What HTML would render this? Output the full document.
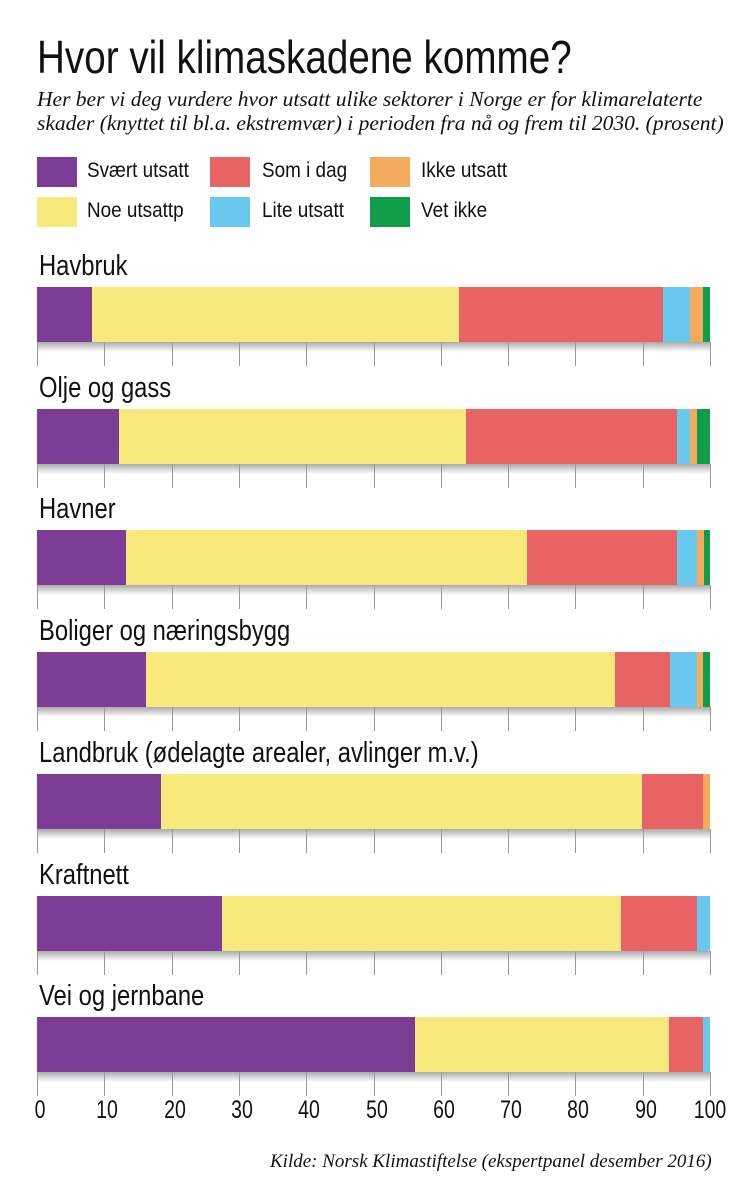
<!DOCTYPE html>
<html><head><meta charset="utf-8"><style>
body{margin:0;width:756px;height:1200px;background:#fff;position:relative;overflow:hidden;font-family:"Liberation Sans",sans-serif;color:#111}
.a{position:absolute;white-space:nowrap;transform-origin:0 0}
.t{left:37px;top:30px;font-size:46px;transform:scaleX(0.84)}
.s{left:37px;font-family:"Liberation Serif",serif;font-style:italic;font-size:21.5px}
.sw{position:absolute;width:40px;height:30px}
.lg{position:absolute;font-size:21px;transform:scaleX(0.9);transform-origin:0 0}
.lab{position:absolute;left:39px;font-size:29px;transform:scaleX(0.82);transform-origin:0 0;white-space:nowrap}
.bar{position:absolute;left:37px;width:673px;height:55px;display:flex}
.bar div{height:100%}
.sh{position:absolute;left:37px;width:673px;height:10px;background:linear-gradient(#aaa,#fff)}
.tk{position:absolute;width:1px;height:24px;background:#999}
.n{position:absolute;top:1096px;font-size:25px;transform:translateX(-50%) scaleX(0.78)}
</style></head><body>
<div class="a t">Hvor vil klimaskadene komme?</div>
<div class="a s" style="top:87px">Her ber vi deg vurdere hvor utsatt ulike sektorer i Norge er for klimarelaterte</div>
<div class="a s" style="top:111px">skader (knyttet til bl.a. ekstremvær) i perioden fra nå og frem til 2030. (prosent)</div>

<div class="sw" style="left:37px;top:157px;background:#7d3c96"></div><div class="lg" style="left:87px;top:159px">Svært utsatt</div>
<div class="sw" style="left:210px;top:157px;background:#e86464"></div><div class="lg" style="left:262px;top:159px">Som i dag</div>
<div class="sw" style="left:370px;top:157px;background:#f4ab5e"></div><div class="lg" style="left:421px;top:159px">Ikke utsatt</div>
<div class="sw" style="left:37px;top:197px;background:#f7e97c"></div><div class="lg" style="left:87px;top:199px">Noe utsattp</div>
<div class="sw" style="left:210px;top:197px;background:#69c8ee"></div><div class="lg" style="left:262px;top:199px">Lite utsatt</div>
<div class="sw" style="left:370px;top:197px;background:#0f9d4a"></div><div class="lg" style="left:421px;top:199px">Vet ikke</div>

<div id="c"></div>
<script>
var P='#7d3c96',Y='#f7e97c',R='#e86464',B='#69c8ee',O='#f4ab5e',G='#0f9d4a';
var rows=[
['Havbruk',[[92,P],[459,Y],[663,R],[690,B],[703,O],[710,G]]],
['Olje og gass',[[119,P],[466,Y],[677,R],[690,B],[697,O],[710,G]]],
['Havner',[[126,P],[527,Y],[677,R],[697,B],[704,O],[710,G]]],
['Boliger og næringsbygg',[[146,P],[615,Y],[670,R],[697,B],[703,O],[710,G]]],
['Landbruk (ødelagte arealer, avlinger m.v.)',[[161,P],[642,Y],[703,R],[710,O]]],
['Kraftnett',[[222,P],[621,Y],[697,R],[710,B]]],
['Vei og jernbane',[[415,P],[669,Y],[703,R],[710,B]]]];
var h='';
rows.forEach(function(r,i){
 var top=287+i*121.7;
 h+='<div class="lab" style="top:'+(top-37)+'px">'+r[0]+'</div>';
 h+='<div class="bar" style="top:'+top+'px">';
 var x=37;r[1].forEach(function(s){h+='<div style="width:'+(s[0]-x)+'px;background:'+s[1]+'"></div>';x=s[0];});
 h+='</div><div class="sh" style="top:'+(top+55)+'px"></div>';
 for(var k=0;k<=10;k++)h+='<div class="tk" style="left:'+(37+k*67.3)+'px;top:'+(top+55)+'px"></div>';
});
for(var k=0;k<=10;k++)h+='<div class="n" style="left:'+(40+k*67.3-(k==10?3:0))+'px">'+(k*10)+'</div>';
h+='<div class="a" style="left:270px;top:1151px;font-family:\'Liberation Serif\',serif;font-style:italic;font-size:19px">Kilde: Norsk Klimastiftelse (ekspertpanel desember 2016)</div>';
document.getElementById('c').innerHTML=h;
</script>
</body></html>
